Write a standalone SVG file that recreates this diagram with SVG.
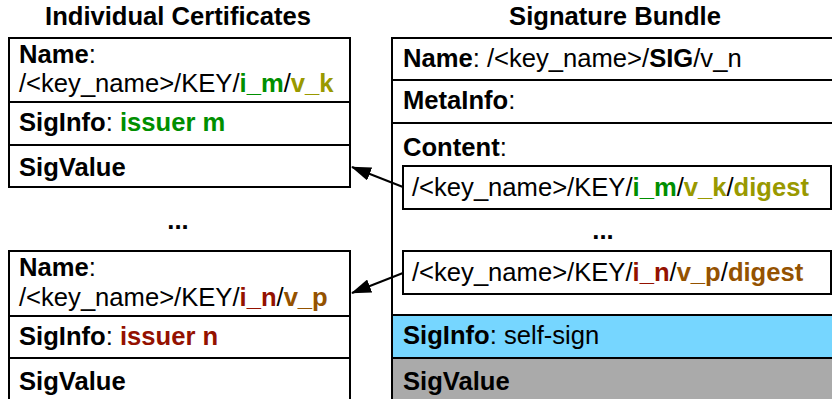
<svg xmlns="http://www.w3.org/2000/svg" width="832" height="399" viewBox="0 0 832 399">
<style>
text{font-family:"Liberation Sans",Arial,Helvetica,sans-serif;font-size:25.6px;fill:#000}
.b{font-weight:bold}
.t{font-weight:bold;text-anchor:middle}
.box{fill:#fff;stroke:#000;stroke-width:2}
.ln{stroke:#000;stroke-width:2;fill:none}
.g{fill:#008F00;font-weight:bold}
.o{fill:#999900;font-weight:bold}
.r{fill:#941100;font-weight:bold}
.br{fill:#945200;font-weight:bold}
</style>
<defs>
<marker id="ah2" viewBox="0 0 20 14" refX="19" refY="7" markerWidth="20" markerHeight="14" markerUnits="userSpaceOnUse" orient="auto">
<path d="M0,0 L20,7 L0,14 Z" fill="#000"/>
</marker>
</defs>
<text class="t" x="178" y="25">Individual Certificates</text>
<text class="t" x="615" y="25">Signature Bundle</text>
<g id="cert-m">
<rect class="box" x="9" y="38" width="341" height="149"/>
<line class="ln" x1="9" y1="102" x2="350" y2="102"/>
<line class="ln" x1="9" y1="145" x2="350" y2="145"/>
<text x="19" y="63"><tspan class="b">Name</tspan>:</text>
<text x="19" y="92">/&lt;key_name&gt;/KEY/<tspan class="g">i_m</tspan>/<tspan class="o">v_k</tspan></text>
<text x="19" y="131"><tspan class="b">SigInfo</tspan>: <tspan class="g">issuer m</tspan></text>
<text x="19" y="176" class="b">SigValue</text>
</g>
<text class="t" x="178" y="229">...</text>
<g id="cert-n">
<rect class="box" x="9" y="251" width="341" height="160"/>
<line class="ln" x1="9" y1="316" x2="350" y2="316"/>
<line class="ln" x1="9" y1="358" x2="350" y2="358"/>
<text x="19" y="276"><tspan class="b">Name</tspan>:</text>
<text x="19" y="306">/&lt;key_name&gt;/KEY/<tspan class="r">i_n</tspan>/<tspan class="br">v_p</tspan></text>
<text x="19" y="345"><tspan class="b">SigInfo</tspan>: <tspan class="r">issuer n</tspan></text>
<text x="19" y="390" class="b">SigValue</text>
</g>
<g id="bundle">
<rect class="box" x="392" y="38" width="450" height="380"/>
<rect x="392" y="315" width="450" height="43" fill="#76D6FF" stroke="#000" stroke-width="2"/>
<rect x="392" y="358" width="450" height="60" fill="#AAAAAA" stroke="#000" stroke-width="2"/>
<line class="ln" x1="392" y1="80" x2="842" y2="80"/>
<line class="ln" x1="392" y1="123" x2="842" y2="123"/>
<text x="403" y="67"><tspan class="b">Name</tspan>: /&lt;key_name&gt;/<tspan class="b">SIG</tspan>/v_n</text>
<text x="403" y="109"><tspan class="b">MetaInfo</tspan>:</text>
<text x="403" y="156"><tspan class="b">Content</tspan>:</text>
<g id="digest-m">
<rect class="box" x="403" y="166" width="428" height="43"/>
<text x="412" y="196">/&lt;key_name&gt;/KEY/<tspan class="g">i_m</tspan>/<tspan class="o">v_k</tspan>/<tspan class="o">digest</tspan></text>
</g>
<text class="t" x="603" y="239">...</text>
<g id="digest-n">
<rect class="box" x="403" y="251" width="428" height="43"/>
<text x="412" y="281">/&lt;key_name&gt;/KEY/<tspan class="r">i_n</tspan>/<tspan class="br">v_p</tspan>/<tspan class="br">digest</tspan></text>
</g>
<text x="403" y="344"><tspan class="b">SigInfo</tspan>: self-sign</text>
<text x="403" y="390" class="b">SigValue</text>
</g>
<g id="connectors">
<line class="ln" x1="403" y1="187" x2="352" y2="167" marker-end="url(#ah2)"/>
<line class="ln" x1="403" y1="273" x2="352" y2="293" marker-end="url(#ah2)"/>
</g>
</svg>
